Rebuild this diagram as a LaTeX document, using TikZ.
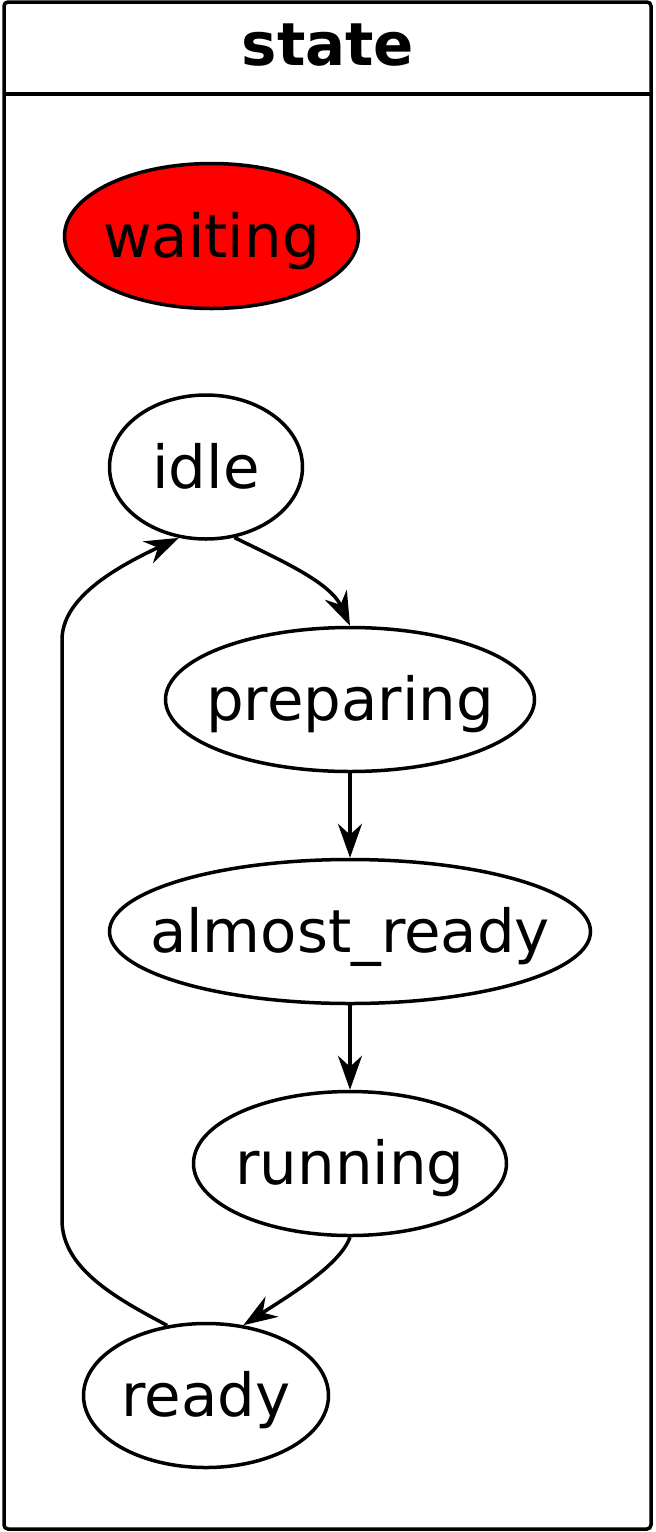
\documentclass[tikz,border=0pt]{standalone}
\usepackage{fontspec}
\setmainfont{DejaVu Sans}
\usetikzlibrary{shapes.geometric,arrows.meta}
\begin{document}
\begin{tikzpicture}[x=0.5pt,y=-0.5pt,
  st/.style={ellipse,draw,line width=1.75pt,inner xsep=-40pt,inner ysep=0pt,
    font=\fontsize{29.7pt}{34pt}\selectfont,text height=21pt,text depth=0pt},
  edge/.style={line width=1.75pt,-{Stealth[length=17pt,width=12pt,inset=5.5pt]}},
  frame/.style={draw,line width=1.75pt,rounded corners=2pt}]
\useasboundingbox (0,0) rectangle (656,1532);
\draw[frame] (4,2) rectangle (651,1529);
\draw[line width=1.75pt] (4,94) -- (651,94);
\node[font=\bfseries\fontsize{29.7pt}{34pt}\selectfont,text height=21pt,text depth=0pt,inner sep=0pt] (title) at (328,44) {state};
\node[st,fill=red,minimum width=147pt,minimum height=72.5pt] (waiting) at (211.5,236) {waiting};
\node[st,minimum width=96.5pt,minimum height=72pt] (idle) at (206,467) {idle};
\node[st,minimum width=184.5pt,minimum height=72pt] (preparing) at (350,699.5) {preparing};
\node[st,minimum width=240.5pt,minimum height=72pt] (almost) at (350,931.5) {almost\_ready};
\node[st,minimum width=156.5pt,minimum height=72pt] (running) at (350,1163.5) {running};
\node[st,minimum width=122.5pt,minimum height=72pt] (ready) at (206,1395.5) {ready};
\draw[edge] (idle.-68) .. controls (280,560) and (330,582) .. (preparing.north);
\draw[edge] (preparing) -- (almost);
\draw[edge] (almost) -- (running);
\draw[edge] (running.south) .. controls (340,1265) and (290,1295) .. (ready.62);
\draw[edge] (ready.119) .. controls (120,1300) and (62,1270) .. (62,1220) -- (62,640) .. controls (62,600) and (110,570) .. (idle.-111);
\end{tikzpicture}
\end{document}
